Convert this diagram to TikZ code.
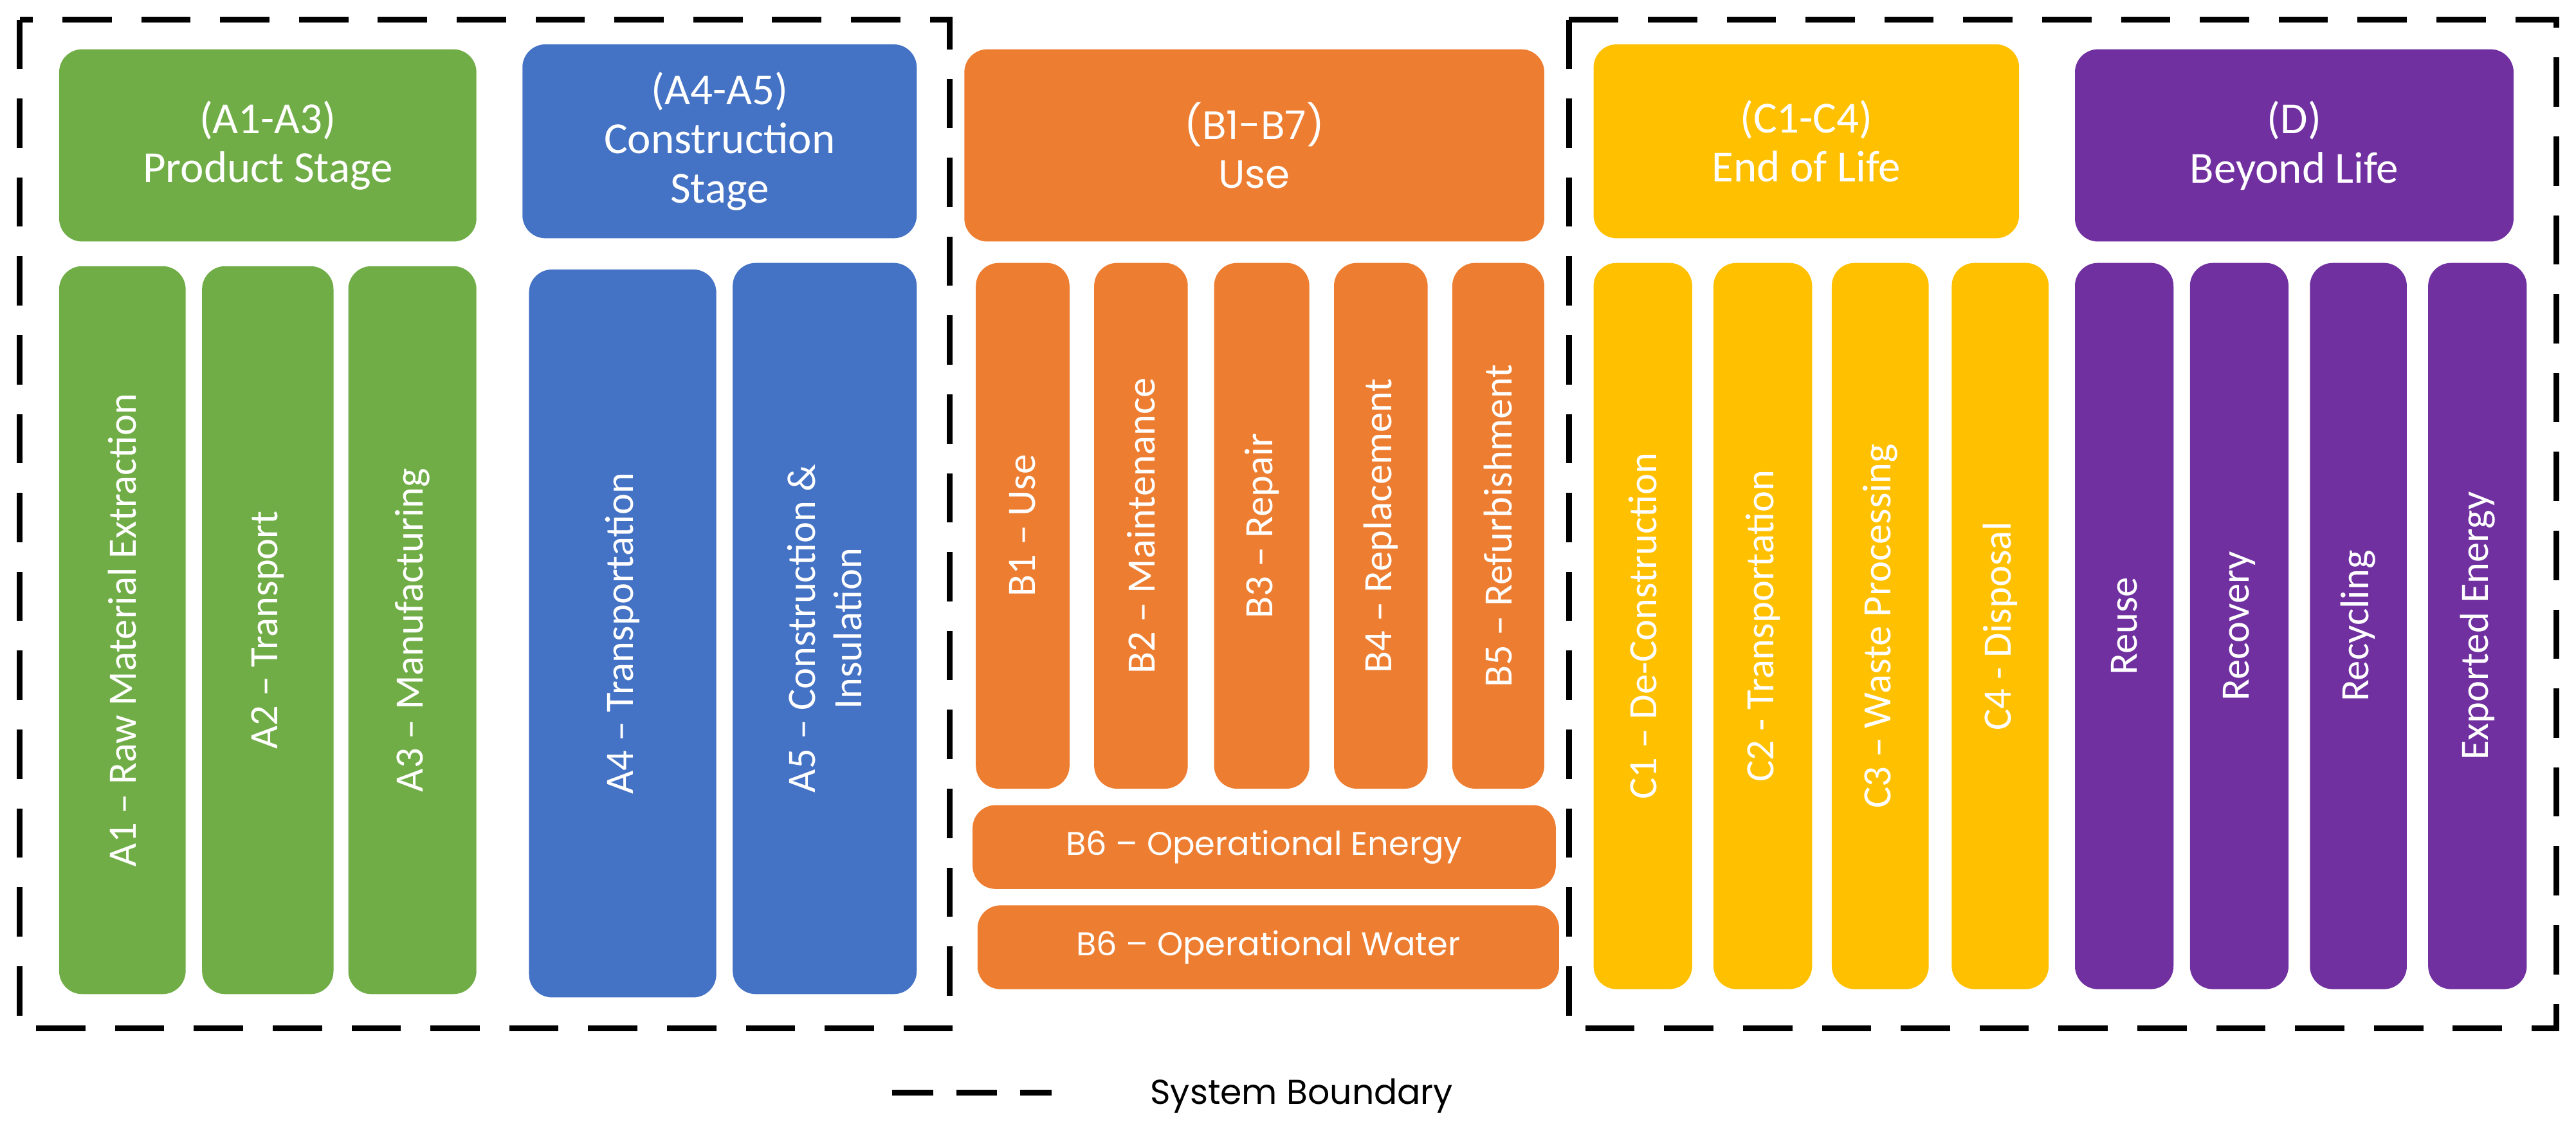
\documentclass[tikz,border=0pt]{standalone}
\usepackage{fontspec}
\setmainfont{Carlito}
\newfontfamily\geo{Poppins}
\definecolor{cg}{HTML}{70AD47}
\definecolor{cb}{HTML}{4472C4}
\definecolor{co}{HTML}{ED7D31}
\definecolor{cy}{HTML}{FFC000}
\definecolor{cp}{HTML}{7030A0}
\tikzset{
 box/.style={fill=#1, draw=none, rounded corners=14pt, inner sep=0pt, text=white, align=center},
 bound/.style={line width=3.5pt, dash pattern=on 30pt off 18pt},
 hf/.style={font=\fontsize{27}{30}\selectfont},
 cf/.style={font=\fontsize{24.5}{28}\selectfont},
 gf/.style={font=\geo\fontsize{24}{30}\selectfont},
 bf/.style={font=\geo\fontsize{20}{24}\selectfont},
}
% name, colour, x1, y1, x2, y2, rotate, font style, text
\newcommand\mybox[9]{%
 \pgfmathsetmacro\cx{(#3+#5)/2}\pgfmathsetmacro\cy{(#4+#6)/2}%
 \pgfmathsetmacro\ww{#5-#3}\pgfmathsetmacro\hh{#6-#4}%
 \ifnum#7=0
 \node[box=#2, #8, minimum width=\ww pt, minimum height=\hh pt] (#1) at (\cx,\cy) {#9};
 \else
 \node[box=#2, #8, rotate=90, minimum width=\hh pt, minimum height=\ww pt] (#1) at (\cx,\cy) {#9};
 \fi}
\begin{document}
\begin{tikzpicture}[x=1pt,y=-1pt]
\useasboundingbox (0,0) rectangle (1568,698);
\draw[bound] (12,12) rectangle (578,626);
\draw[bound] (955,12) rectangle (1556,626);
\mybox{hA}{cg}{36}{30}{290}{147}{0}{hf}{(A1-A3)\\Product Stage}
\mybox{hA4}{cb}{318}{27}{558}{145}{0}{hf}{(A4-A5)\\Construction\\Stage}
\mybox{hB}{co}{587}{30}{940}{147}{0}{gf}{(B1-B7)\\Use}
\mybox{hC}{cy}{970}{27}{1229}{145}{0}{hf}{(C1-C4)\\End of Life}
\mybox{hD}{cp}{1263}{30}{1530}{147}{0}{hf}{(D)\\Beyond Life}
\mybox{a1}{cg}{36}{162}{113}{605}{1}{cf}{A1 – Raw Material Extraction}
\mybox{a2}{cg}{123}{162}{203}{605}{1}{cf}{A2 – Transport}
\mybox{a3}{cg}{212}{162}{290}{605}{1}{cf}{A3 – Manufacturing}
\mybox{a4}{cb}{322}{164}{436}{607}{1}{cf}{A4 – Transportation}
\mybox{a5}{cb}{446}{160}{558}{605}{1}{cf}{A5 – Construction \&\\Insulation}
\mybox{b1}{co}{594}{160}{651}{480}{1}{cf}{B1 – Use}
\mybox{b2}{co}{666}{160}{723}{480}{1}{cf}{B2 – Maintenance}
\mybox{b3}{co}{739}{160}{797}{480}{1}{cf}{B3 – Repair}
\mybox{b4}{co}{812}{160}{869}{480}{1}{cf}{B4 – Replacement}
\mybox{b5}{co}{884}{160}{940}{480}{1}{cf}{B5 – Refurbishment}
\mybox{b6}{co}{592}{490}{947}{541}{0}{bf}{B6 – Operational Energy}
\mybox{b7}{co}{595}{551}{949}{602}{0}{bf}{B6 – Operational Water}
\mybox{c1}{cy}{970}{160}{1030}{602}{1}{cf}{C1 – De-Construction}
\mybox{c2}{cy}{1043}{160}{1103}{602}{1}{cf}{C2 - Transportation}
\mybox{c3}{cy}{1115}{160}{1174}{602}{1}{cf}{C3 – Waste Processing}
\mybox{c4}{cy}{1188}{160}{1247}{602}{1}{cf}{C4 - Disposal}
\mybox{d1}{cp}{1263}{160}{1323}{602}{1}{cf}{Reuse}
\mybox{d2}{cp}{1333}{160}{1393}{602}{1}{cf}{Recovery}
\mybox{d3}{cp}{1406}{160}{1465}{602}{1}{cf}{Recycling}
\mybox{d4}{cp}{1478}{160}{1538}{602}{1}{cf}{Exported Energy}
\coordinate (l1) at (543,665);
\coordinate (l2) at (640,665);
\draw[line width=3.5pt, dash pattern=on 25pt off 14pt] (l1) -- (l2);
\node[anchor=west, inner sep=0pt, font=\geo\fontsize{21}{24}\selectfont] (leg) at (700,667) {System Boundary};
\end{tikzpicture}
\end{document}
